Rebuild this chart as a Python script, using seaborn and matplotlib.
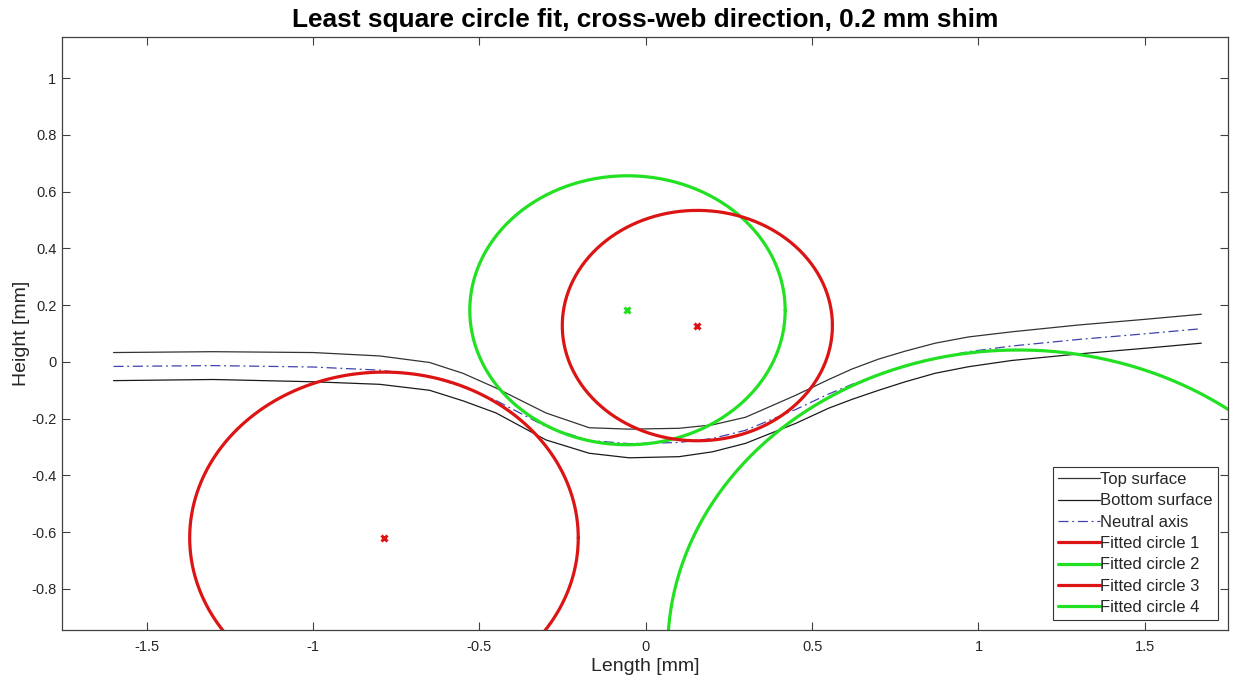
import numpy as np
import pandas as pd
import matplotlib
matplotlib.use("Agg")
import matplotlib.pyplot as plt
import seaborn as sns

# Measured profile of the shim (cross-web direction)
length = [-1.6, -1.3, -1.0, -0.8, -0.65, -0.55, -0.45, -0.3, -0.17, -0.05, 0.1,
          0.2, 0.3, 0.45, 0.55, 0.62, 0.7, 0.78, 0.87, 0.97, 1.1, 1.3, 1.5, 1.67]
top_surface = [0.033, 0.036, 0.033, 0.021, -0.002, -0.04, -0.092, -0.18, -0.232,
               -0.237, -0.234, -0.222, -0.195, -0.118, -0.062, -0.025, 0.01,
               0.038, 0.066, 0.088, 0.106, 0.13, 0.15, 0.168]
bottom_surface = [-0.066, -0.062, -0.07, -0.079, -0.1, -0.137, -0.18, -0.275,
                  -0.322, -0.338, -0.334, -0.317, -0.287, -0.217, -0.163, -0.132,
                  -0.1, -0.07, -0.04, -0.017, 0.005, 0.028, 0.048, 0.066]
neutral_axis = [-0.016, -0.013, -0.018, -0.029, -0.051, -0.088, -0.136, -0.228,
                -0.277, -0.288, -0.284, -0.27, -0.241, -0.168, -0.113, -0.079,
                -0.045, -0.016, 0.013, 0.036, 0.056, 0.079, 0.099, 0.117]

# Least-square fitted circles: centre and radius
circle_names = ["Fitted circle 1", "Fitted circle 2", "Fitted circle 3", "Fitted circle 4"]
circle_cx = [-0.787, -0.055, 0.155, 1.12]
circle_cy = [-0.62, 0.182, 0.128, -1.012]
circle_r = [0.584, 0.474, 0.406, 1.054]
circle_colors = ["#dc1414", "#22e022", "#dc1414", "#22e022"]

sns.set_theme(style="white")
plt.rcParams["font.family"] = ["Liberation Sans", "DejaVu Sans"]

fig = plt.figure(figsize=(12.34, 6.82), dpi=100)
ax = fig.add_axes([0.0502, 0.0762, 0.9449, 0.8695])

profile = pd.DataFrame({"Length": length, "Top": top_surface,
                        "Bottom": bottom_surface, "Neutral": neutral_axis})
sns.lineplot(data=profile, x="Length", y="Top", ax=ax, color="#333333",
             linewidth=0.9, sort=False, label="Top surface")
sns.lineplot(data=profile, x="Length", y="Bottom", ax=ax, color="#1a1a1a",
             linewidth=0.9, sort=False, label="Bottom surface")
sns.lineplot(data=profile, x="Length", y="Neutral", ax=ax, color="#4040b0",
             linewidth=0.9, sort=False, label="Neutral axis",
             linestyle=(0, (8, 3, 1.5, 3)))

theta = np.linspace(0, 2 * np.pi, 400)
for name, cx, cy, r, col in zip(circle_names, circle_cx, circle_cy, circle_r, circle_colors):
    ring = pd.DataFrame({"x": cx + r * np.cos(theta), "y": cy + r * np.sin(theta)})
    sns.lineplot(data=ring, x="x", y="y", ax=ax, color=col, linewidth=2.3,
                 sort=False, estimator=None, label=name)

for cx, cy, col in zip(circle_cx, circle_cy, circle_colors):
    ax.plot(cx, cy, marker="x", color=col, markersize=4.5, markeredgewidth=2.2,
            linestyle="none")

ax.set_xlim(-1.755, 1.75)
ax.set_ylim(-0.945, 1.145)
ax.set_xticks([-1.5, -1, -0.5, 0, 0.5, 1, 1.5])
ax.set_xticklabels(["-1.5", "-1", "-0.5", "0", "0.5", "1", "1.5"])
ax.set_yticks([-0.8, -0.6, -0.4, -0.2, 0, 0.2, 0.4, 0.6, 0.8, 1])
ax.set_yticklabels(["-0.8", "-0.6", "-0.4", "-0.2", "0", "0.2", "0.4", "0.6", "0.8", "1"])
ax.tick_params(direction="in", length=6, width=0.8, color="#404040",
               labelsize=10.5, labelcolor="#262626", top=True, right=True,
               bottom=True, left=True)
ax.tick_params(axis="x", pad=7)
ax.tick_params(axis="y", pad=4)
for sp in ax.spines.values():
    sp.set_color("#404040")
    sp.set_linewidth(0.9)

ax.set_xlabel("Length [mm]", fontsize=14, color="#262626", labelpad=3)
ax.set_ylabel("Height [mm]", fontsize=14, color="#262626", labelpad=1)
ax.set_title("Least square circle fit, cross-web direction, 0.2 mm shim",
             fontsize=18.9, fontweight="bold", color="black", pad=7)

leg = ax.legend(loc="lower right", fontsize=12, frameon=True, fancybox=False,
                edgecolor="#333333", framealpha=1, borderpad=0.3,
                labelspacing=0.38, handlelength=2.5, handletextpad=0.05,
                borderaxespad=0.6)
leg.get_frame().set_linewidth(0.8)

fig.savefig("out.png", dpi=100, facecolor="white")
